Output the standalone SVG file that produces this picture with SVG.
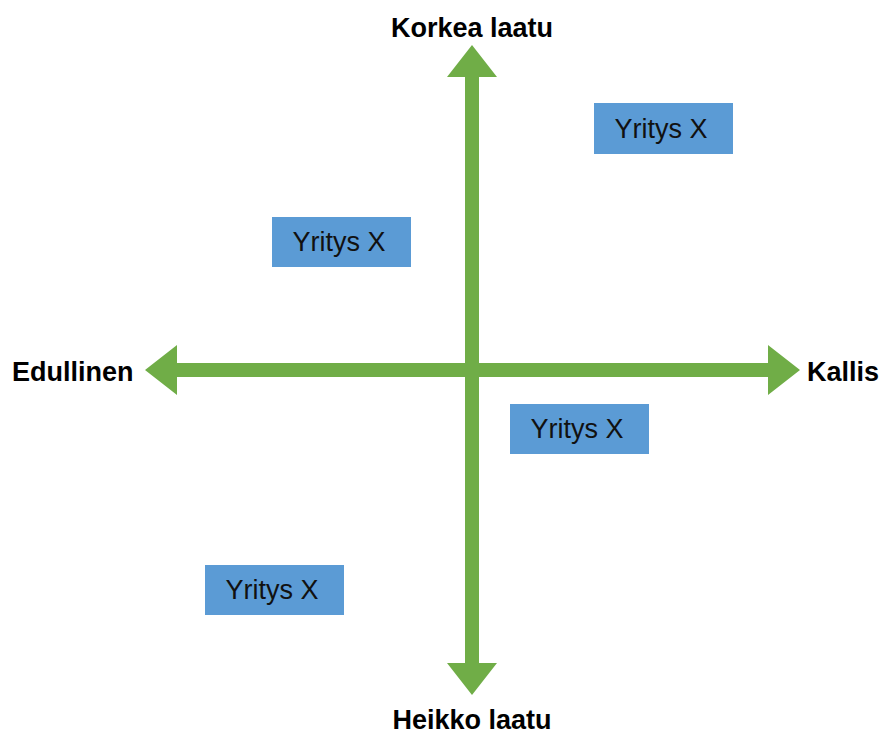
<svg xmlns="http://www.w3.org/2000/svg" width="882" height="735" viewBox="0 0 882 735">
  <style>
    .axis { fill: #70AD47; }
    .box rect { fill: #5B9BD5; }
    .box text { font-family: "Liberation Sans", Arial, sans-serif; font-size: 27px; fill: #111; text-anchor: middle; }
    .label { font-family: "Liberation Sans", Arial, sans-serif; font-size: 27px; font-weight: bold; fill: #000; }
  </style>
  <rect width="882" height="735" fill="#fff"/>

  <!-- Axes: double-headed arrows -->
  <g id="connectors">
    <!-- vertical: quality -->
    <polygon class="axis" points="472,45 497,77 479,77 479,663 497,663 472,695 447,663 465,663 465,77 447,77"/>
    <!-- horizontal: price -->
    <polygon class="axis" points="145,370 177,345 177,363 768,363 768,345 800,370 768,395 768,377 177,377 177,395"/>
  </g>

  <!-- Axis labels -->
  <g id="label-top"><text class="label" x="472" y="37" text-anchor="middle">Korkea laatu</text></g>
  <g id="label-bottom"><text class="label" x="472" y="729" text-anchor="middle">Heikko laatu</text></g>
  <g id="label-left"><text class="label" x="12" y="381">Edullinen</text></g>
  <g id="label-right"><text class="label" x="807" y="381">Kallis</text></g>

  <!-- Company boxes -->
  <g id="company-1" class="box"><rect x="594" y="103" width="139" height="51"/><text x="661" y="138">Yritys X</text></g>
  <g id="company-2" class="box"><rect x="272" y="217" width="139" height="50"/><text x="339" y="251">Yritys X</text></g>
  <g id="company-3" class="box"><rect x="510" y="404" width="139" height="50"/><text x="577" y="438">Yritys X</text></g>
  <g id="company-4" class="box"><rect x="205" y="565" width="139" height="50"/><text x="272" y="599">Yritys X</text></g>
</svg>
